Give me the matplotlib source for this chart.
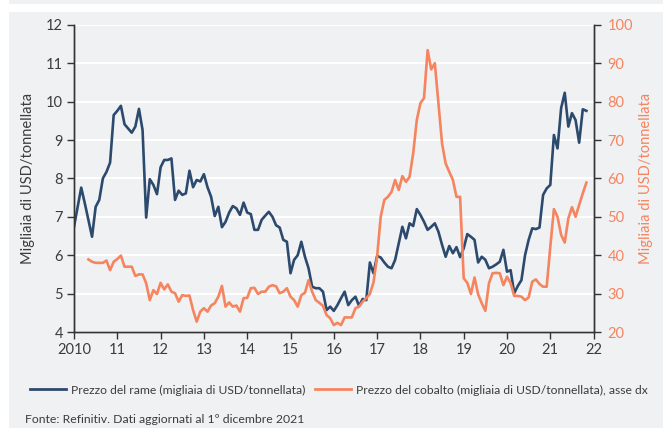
import numpy as np
import matplotlib
matplotlib.use("Agg")
from matplotlib import pyplot as plt
from matplotlib.patches import Rectangle

plt.rcParams['font.family'] = ['Lato', 'DejaVu Sans']

# monthly data, Jan 2010 .. Nov 2021
start_year = 2010
copper = [
    6.74, 7.25, 7.76, 7.35, 6.92, 6.48, 7.26, 7.44, 8.00, 8.17, 8.41, 9.65,
    9.76, 9.89, 9.41, 9.30, 9.19, 9.35, 9.81, 9.26, 6.98, 7.98, 7.83, 7.59,
    8.29, 8.48, 8.48, 8.52, 7.44, 7.68, 7.57, 7.61, 8.20, 7.77, 7.96, 7.92,
    8.11, 7.77, 7.52, 7.02, 7.26, 6.73, 6.87, 7.11, 7.28, 7.22, 7.05, 7.37,
    7.11, 7.07, 6.66, 6.66, 6.92, 7.03, 7.13, 7.00, 6.78, 6.72, 6.40, 6.35,
    5.53, 5.88, 6.00, 6.35, 5.96, 5.66, 5.18, 5.14, 5.14, 5.05, 4.57, 4.66,
    4.55, 4.70, 4.88, 5.05, 4.70, 4.83, 4.92, 4.68, 4.86, 4.83, 5.81, 5.53,
    5.98, 5.94, 5.81, 5.70, 5.66, 5.88, 6.31, 6.74, 6.44, 6.83, 6.76, 7.20,
    7.05, 6.87, 6.66, 6.74, 6.83, 6.61, 6.27, 5.96, 6.24, 6.05, 6.21, 5.95,
    6.18, 6.55, 6.48, 6.40, 5.81, 5.96, 5.88, 5.66, 5.70, 5.76, 5.83, 6.14,
    5.57, 5.61, 5.01, 5.20, 5.35, 6.00, 6.40, 6.70, 6.68, 6.72, 7.57, 7.74,
    7.83, 9.13, 8.78, 9.83, 10.23, 9.35, 9.70, 9.52, 8.93, 9.80, 9.76,
]
# cobalt series starts in May 2010
cobalt = [
    np.nan, np.nan, np.nan, np.nan,
    38.9, 38.3, 38.0, 38.0, 38.0, 38.6, 36.1, 38.3,
    39.0, 39.9, 37.0, 37.0, 37.0, 34.6, 35.0, 35.0, 32.7, 28.3, 30.9, 29.9,
    32.8, 31.1, 32.4, 30.5, 30.1, 27.9, 29.6, 29.4, 29.5, 25.7, 22.7, 25.3,
    26.2, 25.3, 26.9, 27.5, 29.2, 32.0, 26.6, 27.7, 26.6, 26.9, 25.3, 28.8,
    28.9, 31.4, 31.5, 29.9, 30.5, 30.5, 31.8, 32.2, 31.9, 30.1, 30.5, 31.4,
    29.2, 28.3, 26.6, 29.6, 30.2, 33.5, 30.5, 28.3, 27.6, 26.8, 24.4, 23.6,
    21.8, 22.4, 21.8, 23.8, 23.8, 23.8, 26.2, 26.6, 27.9, 28.8, 29.9, 32.9,
    39.6, 50.0, 54.4, 55.2, 56.5, 59.6, 57.0, 60.6, 59.1, 60.4, 66.5, 75.2,
    79.6, 80.9, 93.4, 88.4, 90.0, 79.6, 69.1, 63.9, 61.7, 59.6, 55.2, 55.2,
    34.0, 32.8, 29.9, 34.2, 29.8, 27.5, 25.5, 32.7, 35.3, 35.4, 35.3, 32.2,
    34.4, 32.7, 29.4, 29.4, 29.2, 28.3, 29.0, 33.1, 33.7, 32.5, 31.8, 31.8,
    42.2, 52.0, 50.0, 45.3, 43.3, 49.6, 52.5, 50.0, 53.1, 56.1, 58.9,
]
year_ticks = list(range(2010, 2023))
year_labels = ["2010"] + [str(y)[2:] for y in year_ticks[1:]]
left_ticks = list(range(4, 13))
right_ticks = list(range(20, 101, 10))

label_copper = "Prezzo del rame (migliaia di USD/tonnellata)"
label_cobalt = "Prezzo del cobalto (migliaia di USD/tonnellata), asse dx"
ylabel = "Migliaia di USD/tonnellata"
source = "Fonte: Refinitiv. Dati aggiornati al 1º dicembre 2021"

navy = "#2c4a6e"
orange = "#f5845f"
bg = "#f0f1f3"
txt = "#3c3c3c"

x = start_year + np.arange(len(copper)) / 12.0

W, H = 663, 428
fig = plt.figure(figsize=(W / 100, H / 100), dpi=100, facecolor=bg)
# white strips around the panel
fig.add_artist(Rectangle((0, 0), 9 / W, 1, transform=fig.transFigure,
                         facecolor="white", edgecolor="none", zorder=-5))
fig.add_artist(Rectangle((0, 1 - 12 / H), 1, 8 / H, transform=fig.transFigure,
                         facecolor="white", edgecolor="none", zorder=-5))

ax = fig.add_axes([74 / W, 1 - 332 / H, 519.6 / W, 307.2 / H])
ax.set_facecolor(bg)
ax2 = ax.twinx()

ax.plot(x, copper, color=navy, lw=1.9, solid_joinstyle="round", zorder=3)
ax2.plot(x, cobalt, color=orange, lw=1.9, solid_joinstyle="round", zorder=3)

ax.set_xlim(2010, 2022)
ax.set_ylim(4, 12)
ax2.set_ylim(20, 100)
ax.set_xticks(year_ticks)
ax.set_xticklabels(year_labels)
ax.set_yticks(left_ticks)
ax2.set_yticks(right_ticks)

ax.grid(axis="y", color="white", lw=1.5, zorder=0)
ax.set_axisbelow(True)

for a in (ax, ax2):
    a.spines["top"].set_visible(False)
    for s in ("left", "right", "bottom"):
        a.spines[s].set_color("#333333")
        a.spines[s].set_linewidth(1.0)

ax.tick_params(axis="y", direction="out", length=5, width=1, color="#333333",
               labelsize=10.5, labelcolor=txt, pad=3)
ax.tick_params(axis="x", direction="out", length=5, width=1, color="#333333",
               labelsize=10.5, labelcolor=txt, pad=3)
ax2.tick_params(axis="y", direction="out", length=5, width=1, color="#333333",
                labelsize=10.5, labelcolor=orange, pad=5)

ax.set_ylabel(ylabel, fontsize=10.5, color=txt, labelpad=8)
ax2.set_ylabel(ylabel, fontsize=10.5, color=orange, labelpad=4)

handles = [plt.Line2D([], [], color=navy, lw=2),
           plt.Line2D([], [], color=orange, lw=2)]
fig.legend(handles, [label_copper, label_cobalt], loc="center left",
           bbox_to_anchor=(19 / W, 1 - 390 / H), ncol=2, frameon=False,
           fontsize=8.7, handlelength=3.0, handletextpad=0.4, columnspacing=0.8,
           labelcolor=txt)

fig.text(25 / W, 1 - 414 / H, source, fontsize=8.8, color=txt, va="top", ha="left")

fig.savefig("out.png", dpi=100, facecolor=bg)
